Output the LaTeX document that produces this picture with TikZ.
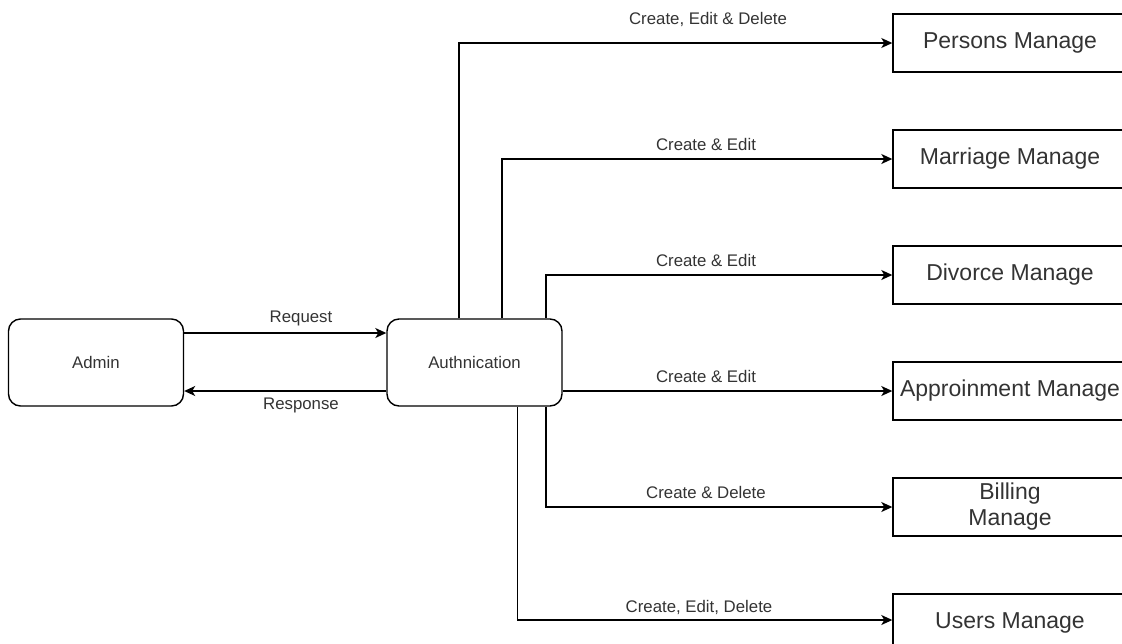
\documentclass[tikz,border=0pt]{standalone}
\usepackage{fontspec}
\setmainfont{Liberation Sans}
\usetikzlibrary{arrows.meta}
\definecolor{ink}{HTML}{333333}
\begin{document}
\begin{tikzpicture}[x=1pt,y=-1pt,
  line width=1.4pt,
  actor/.style={draw, rounded corners=12pt, minimum width=175pt, minimum height=87pt,
    inner sep=0pt, text=ink, font=\fontsize{16.8}{20}\selectfont},
  module/.style={draw, minimum width=234pt, minimum height=58pt, inner sep=0pt,
    text=ink, align=center, font=\fontsize{23}{26}\selectfont},
  flow/.style={-{Stealth[length=11pt,width=10pt,inset=3pt]}},
  tag/.style={inner sep=0pt, text=ink, font=\fontsize{16.8}{20}\selectfont}
]
\useasboundingbox (0,0) rectangle (1122,643);
\clip (0,0) rectangle (1122,643);

% main actors
\node[actor] (admin) at (96,362.5) {Admin};
\node[actor] (auth)  at (474.5,362.5) {Authnication};

% managed modules
\node[module] (persons)  at (1010,43)  {Persons Manage};
\node[module] (marriage) at (1010,159) {Marriage Manage};
\node[module] (divorce)  at (1010,275) {Divorce Manage};
\node[module] (appoint)  at (1010,391) {Approinment Manage};
\node[module] (billing)  at (1010,507) {Billing\\Manage};
\node[module] (users)    at (1010,623) {Users Manage};

% request / response
\draw[flow] ([yshift=29.5pt]admin.east) -- ([yshift=29.5pt]auth.west);
\draw[flow] ([yshift=-28.5pt]auth.west) -- ([yshift=-28.5pt]admin.east);
\node[tag] (req)  at (301,318) {Request};
\node[tag] (resp) at (301,405) {Response};

% permissions per module
\draw[flow] ([xshift=-15.5pt]auth.north) |- (persons.west);
\draw[flow] ([xshift=27.5pt]auth.north) |- (marriage.west);
\draw[flow] ([xshift=71.5pt]auth.north) |- (divorce.west);
\draw[flow] (auth.east |- appoint.west) -- (appoint.west);
\draw[flow] ([xshift=71.5pt]auth.south) |- (billing.west);
\draw[flow] ([xshift=43pt]auth.south) |- ([yshift=3pt]users.west);

\node[tag] (lp) at (708,19)  {Create, Edit \& Delete};
\node[tag] (lm) at (706,144) {Create \& Edit};
\node[tag] (ld) at (706,260) {Create \& Edit};
\node[tag] (la) at (706,376) {Create \& Edit};
\node[tag] (lb) at (706,492) {Create \& Delete};
\node[tag] (lu) at (699,607) {Create, Edit, Delete};
\end{tikzpicture}
\end{document}
